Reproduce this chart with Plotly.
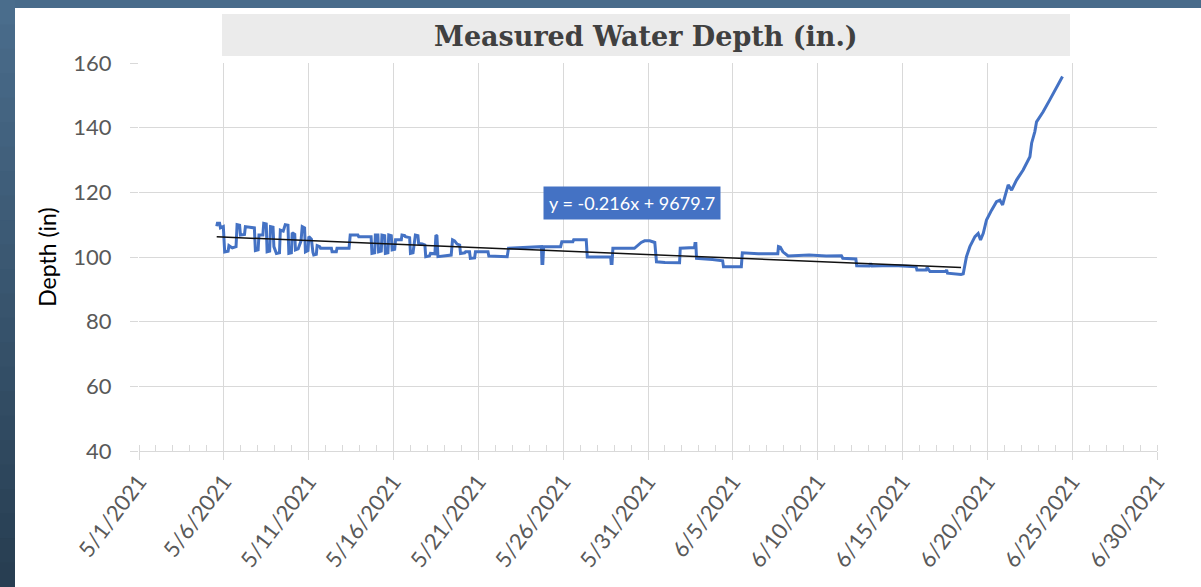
import pandas as pd
import plotly.graph_objects as go

# depth record, time in days since 5/1/2021
days_since_start = [
    4.58, 4.62, 4.75, 4.80, 4.97, 5.05, 5.25, 5.30, 5.50, 5.72, 5.78, 5.93, 5.98, 6.22,
    6.27, 6.45, 6.80, 6.86, 7.02, 7.07, 7.30, 7.35, 7.50, 7.55, 7.70, 7.75, 7.90, 7.95,
    8.10, 8.28, 8.33, 8.50, 8.62, 8.78, 8.83, 8.98, 9.03, 9.18, 9.22, 9.38, 9.55, 9.62,
    9.76, 9.81, 9.96, 10.01, 10.16, 10.25, 10.30, 10.45, 10.50, 10.65, 10.70, 11.34,
    11.38, 11.63, 11.67, 12.38, 12.45, 12.90, 12.95, 13.68, 13.73, 13.89, 13.93, 14.08,
    14.12, 14.28, 14.32, 14.48, 14.52, 14.67, 14.72, 14.87, 14.92, 15.07, 15.12, 15.46,
    15.50, 15.66, 15.70, 15.95, 16.00, 16.15, 16.29, 16.44, 16.48, 16.70,
    16.85, 16.90, 17.12, 17.18, 17.44, 17.50, 17.56, 17.62, 17.84, 18.40, 18.48, 18.60,
    18.75, 18.90, 18.95, 19.20, 19.25, 19.48, 19.53, 19.78, 19.83, 20.57, 20.62, 21.70,
    21.78, 22.70, 23.72, 23.75, 23.80, 23.85, 24.85, 24.92, 25.57, 25.62, 26.36, 26.42,
    27.80, 27.83, 27.88, 27.93, 29.20,
    29.60, 29.80, 30.10, 30.40, 30.50, 31.00, 31.86, 31.90, 32.74, 32.77, 32.82, 32.86,
    33.80, 34.40, 34.45, 35.50, 35.56, 36.50, 37.65, 37.69, 37.80, 37.95, 38.26, 39.50,
    40.50, 41.40, 41.48, 42.25,
    42.30, 43.05, 43.12, 43.20, 44.50, 45.80, 45.85, 46.40, 46.45, 46.55, 46.62, 47.55,
    47.60, 47.65, 48.45, 48.58,
    48.77, 48.97, 49.27, 49.46, 49.60, 49.76, 49.95, 50.25, 50.54, 50.74, 50.90, 51.03,
    51.23, 51.43, 51.72, 52.11, 52.51, 52.61, 52.80, 52.90, 53.29, 53.68, 54.08, 54.43,
]
depth_in = [
    109.5, 110.4, 110.4, 109.0, 109.4, 101.6, 101.8, 103.5, 102.8, 103.2, 110.0, 109.8, 106.8, 107.0,
    109.4, 109.2, 109.0, 102.0, 102.2, 106.8, 106.8, 110.4, 110.2, 101.6, 101.8, 109.4, 109.2, 103.2,
    101.1, 101.3, 108.3, 108.0, 110.0, 109.8, 101.1, 101.3, 107.5, 107.0, 102.2, 102.5, 105.0, 109.4,
    109.0, 101.6, 102.0, 106.3, 105.5, 101.5, 100.6, 100.8, 103.5, 103.2, 102.7, 102.7,
    101.6, 101.6, 102.7, 102.7, 106.8, 106.8, 106.3, 106.3, 101.1, 101.3, 106.8, 106.8,
    101.6, 101.8, 106.8, 106.6, 101.1, 101.3, 106.8, 106.6, 102.2, 102.4, 105.3, 105.3,
    106.8, 106.6, 106.3, 106.0, 101.1, 101.3, 106.8, 106.6, 104.2, 104.0,
    103.7, 100.1, 100.3, 101.1, 101.0, 106.8, 106.5, 100.1, 100.3, 100.6, 105.3, 105.0,
    104.0, 103.7, 101.1, 101.3, 101.6, 101.6, 99.6, 99.7, 101.6, 101.6, 100.3, 100.1,
    102.7, 103.0, 103.2, 98.0, 98.0, 103.2, 103.2, 104.7, 104.7, 105.3, 105.3, 100.0,
    100.1, 98.0, 98.0, 102.7, 102.7,
    104.5, 105.0, 105.0, 104.5, 98.5, 98.3, 98.2, 102.7, 102.9, 104.2, 104.2, 99.6,
    99.2, 98.8, 97.0, 97.0, 101.3, 101.0, 101.0, 103.2, 103.0, 101.6, 100.3, 100.6,
    100.3, 100.4, 99.6, 99.4,
    97.3, 97.2, 98.0, 97.2, 97.4, 97.0, 96.0, 96.0, 96.8, 96.0, 95.5, 95.5,
    96.0, 95.0, 94.6, 94.8,
    100.1, 103.2, 106.3, 107.3, 105.3, 107.3, 111.4, 114.5, 117.1, 117.6, 116.1, 118.6,
    122.3, 120.7, 123.8, 126.9, 131.0, 135.2, 138.8, 141.8, 144.9, 148.6, 152.2, 155.8,
]

# Excel linear trendline (x = Excel date serial)
trend_slope = -0.216
trend_intercept = 9679.7
trend_days = [4.58, 48.45]
EXCEL_SERIAL_START = 44317  # 5/1/2021

start = pd.Timestamp("2021-05-01")
x_dates = start + pd.to_timedelta(days_since_start, unit="D")
trend_dates = start + pd.to_timedelta(trend_days, unit="D")
trend_vals = [trend_slope * (EXCEL_SERIAL_START + d) + trend_intercept for d in trend_days]

W, H = 1201, 587
L, R, T, B = 139, 44, 63, 136
pw, ph = W - L - R, H - T - B


def px(x):
    return (x - L) / pw


def py(y):
    return (H - B - y) / ph


fig = go.Figure()
fig.add_trace(
    go.Scatter(
        x=x_dates, y=depth_in, mode="lines",
        line=dict(color="#4472c4", width=3), showlegend=False,
    )
)
fig.add_trace(
    go.Scatter(
        x=trend_dates, y=trend_vals, mode="lines",
        line=dict(color="#111111", width=1.5), showlegend=False,
    )
)

shapes = [
    # top bar
    dict(type="rect", xref="paper", yref="paper", x0=px(0), x1=px(W), y0=py(0), y1=py(8),
         fillcolor="#486b8a", line_width=0, layer="below"),
    # title box
    dict(type="rect", xref="paper", yref="paper", x0=px(222), x1=px(1070), y0=py(14), y1=py(56),
         fillcolor="#ebebeb", line_width=0, layer="below"),
]
# left bar with gradient
n = 24
top_c, bot_c = (74, 109, 140), (40, 62, 82)
for i in range(n):
    f = i / (n - 1)
    c = tuple(int(top_c[k] + (bot_c[k] - top_c[k]) * f) for k in range(3))
    shapes.append(
        dict(type="rect", xref="paper", yref="paper", x0=px(0), x1=px(15),
             y0=py(H * (i + 1) / n + 1), y1=py(H * i / n), fillcolor="rgb(%d,%d,%d)" % c,
             line_width=0, layer="below")
    )

fig.add_annotation(
    x=start + pd.Timedelta(days=29.05), y=116.7, text="y = -0.216x + 9679.7",
    showarrow=False, bgcolor="#4472c4", borderpad=5,
    font=dict(family="Lato", size=18, color="white"),
)
fig.add_annotation(
    xref="paper", yref="paper", x=px(646), y=py(36), xanchor="center", yanchor="middle",
    text="<b>Measured Water Depth (in.)</b>",
    showarrow=False, font=dict(family="DejaVu Serif", size=27, color="#404040"),
)

fig.update_layout(
    width=W, height=H,
    margin=dict(l=L, r=R, t=T, b=B),
    paper_bgcolor="white", plot_bgcolor="white",
    shapes=shapes,
    font=dict(family="Lato", color="#595959"),
    xaxis=dict(
        type="date",
        range=[start, start + pd.Timedelta(days=60)],
        tick0=start, dtick=5 * 86400000, tickformat="%-m/%-d/%Y",
        tickangle=-53, tickfont=dict(size=22, color="#595959"),
        showgrid=True, gridcolor="#d9d9d9", gridwidth=1,
        ticks="outside", ticklen=8, tickcolor="#d9d9d9",
        showline=True, linecolor="#d9d9d9",
        minor=dict(ticks="inside", dtick=86400000, ticklen=6, tickcolor="#d9d9d9", showgrid=False),
        zeroline=False,
    ),
    yaxis=dict(
        range=[40, 160], dtick=20,
        tickfont=dict(size=22, color="#595959"),
        showgrid=True, gridcolor="#d9d9d9", gridwidth=1,
        ticks="outside", ticklen=8, tickcolor="#d9d9d9", ticklabelstandoff=14,
        showline=False, zeroline=False,
        title=dict(text="Depth (in)", font=dict(size=23, color="black"), standoff=10),
    ),
)

fig.write_html(
    "out.html",
    config={"displayModeBar": False},
    post_script="document.body.style.margin='0';",
)
